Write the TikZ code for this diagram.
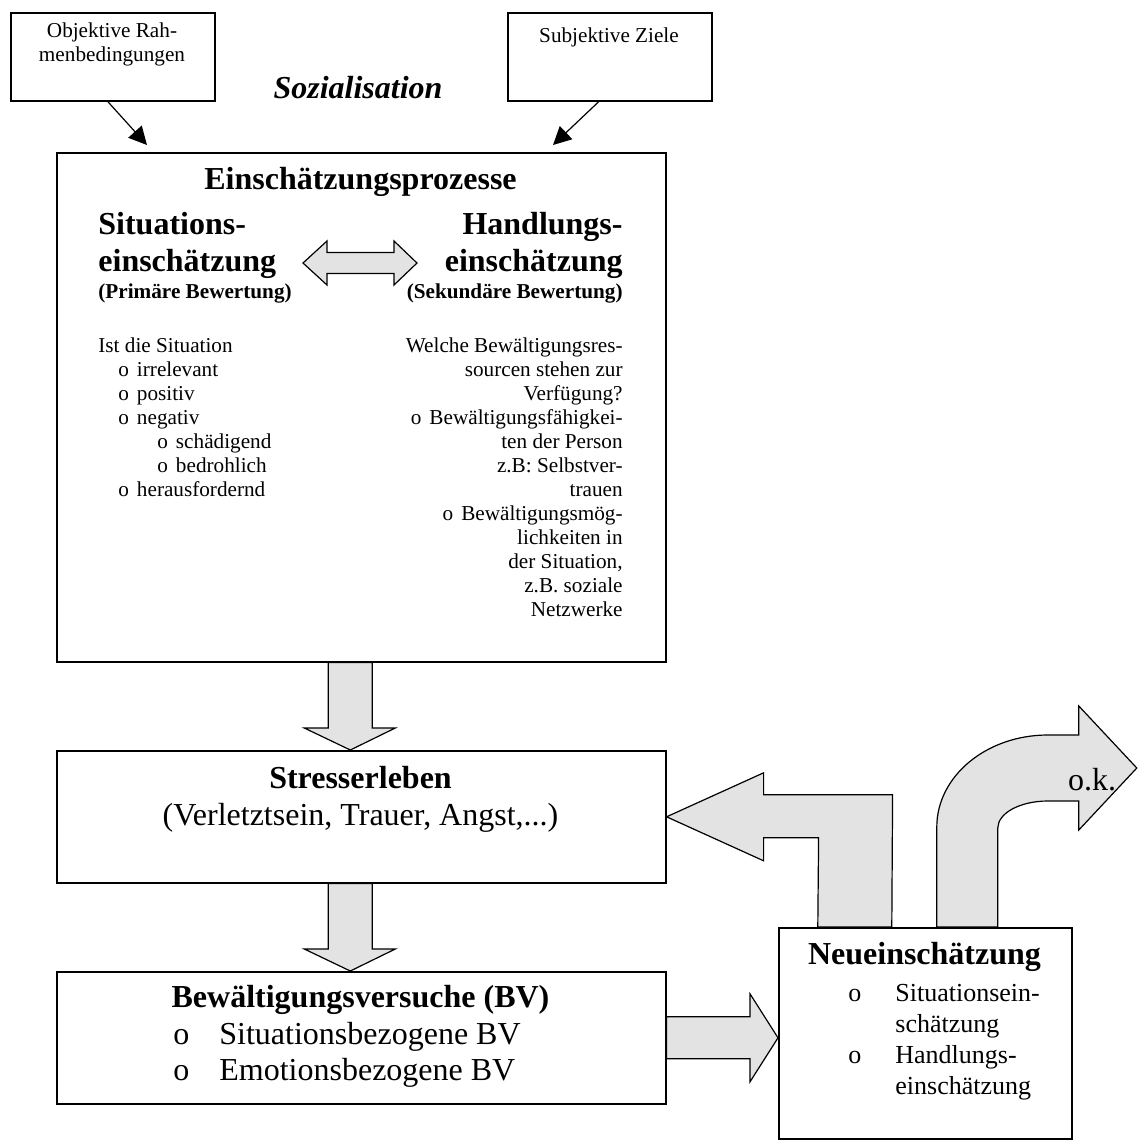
\documentclass[tikz,border=0pt]{standalone}
\usepackage{fontspec}
\setmainfont{Liberation Serif}
\usetikzlibrary{arrows.meta,calc,backgrounds}
\definecolor{blockgray}{HTML}{E3E3E3}

\newcommand{\downblock}[2]{%
  \draw[blockarrow] ($(#1.south)+(-33,0)$) -- ($(#1.south)+(11,0)$)
    -- ($(#2.north)+(11,-22)$) -- ($(#2.north)+(34,-22)$)
    -- ($(#2.north)+(-11,0)$) -- ($(#2.north)+(-57,-22)$)
    -- ($(#2.north)+(-33,-22)$) -- cycle;}
\newcommand{\itm}[1]{\hspace*{#1}o\hspace{4pt}}

\begin{document}
\begin{tikzpicture}[x=0.5pt,y=-0.5pt]
      \tikzset{box/.style={draw, line width=0.8pt, inner sep=0pt, anchor=north west},
        blockarrow/.style={draw, fill=blockgray, line width=0.6pt},
        pointer/.style={line width=0.6pt, -{Triangle[length=9pt,width=9pt]}},
        small/.style={font=\fontsize{10.6}{12}\selectfont, inner sep=0pt},
        smallbold/.style={font=\fontsize{10.6}{12}\selectfont\bfseries, inner sep=0pt},
        big/.style={font=\fontsize{16}{18.5}\selectfont, inner sep=0pt},
        bigbold/.style={font=\fontsize{16}{18.5}\selectfont\bfseries, inner sep=0pt}}
      \useasboundingbox (0,0) rectangle (1137,1142);
      % boxes
      \node[box, minimum width=102pt, minimum height=44pt] (obj) at (10,12) {};
      \node[box, minimum width=102pt, minimum height=44pt] (subj) at (507,12) {};
      \node[box, minimum width=304.5pt, minimum height=254.5pt] (main) at (56,152) {};
      \node[box, minimum width=304.5pt, minimum height=66pt] (stress) at (56,750) {};
      \node[box, minimum width=304.5pt, minimum height=66pt] (coping) at (56,971) {};
      \node[box, minimum width=146.5pt, minimum height=105.5pt] (neu) at (778,927) {};
      % texts
      \node[small, align=center] (objtext) at (112,44) {Objektive Rah-\\menbedingungen};
      \node[small] (subjtext) at (609,37) {Subjektive Ziele};
      \node[font=\fontsize{16}{18.5}\selectfont\bfseries\itshape] (soz) at (358,88) {Sozialisation};
      \node[bigbold] (title) at (360.5,182) {Einschätzungsprozesse};
      \node[bigbold, align=left, anchor=west] (sit) at (98,245) {Situations-\\einschätzung};
      \node[smallbold, anchor=west] (prim) at (98,293) {(Primäre Bewertung)};
      \node[bigbold, align=right, anchor=east] (hand) at (623,245) {Handlungs-\\einschätzung};
      \node[smallbold, anchor=east] (sek) at (623,293) {(Sekundäre Bewertung)};
      \node[small, align=left, anchor=north west] (sitlist) at (98,337) {Ist die Situation\\
        \itm{10pt}irrelevant\\ \itm{10pt}positiv\\ \itm{10pt}negativ\\
        \itm{29.5pt}schädigend\\ \itm{29.5pt}bedrohlich\\ \itm{10pt}herausfordernd};
      \node[small, align=right, anchor=north east] (handlist) at (623,337) {Welche Bewältigungsres-\\
        sourcen stehen zur\\ Verfügung?\\ o\hspace{4pt}Bewältigungsfähigkei-\\ ten der Person\\
        z.B: Selbstver-\\ trauen\\ o\hspace{4pt}Bewältigungsmög-\\ lichkeiten in\\
        der Situation,\\ z.B. soziale\\ Netzwerke};
      \node[big, align=center] (stresstext) at (360.5,799) {\textbf{Stresserleben}\\(Verletztsein, Trauer, Angst,...)};
      \node[bigbold] (copingtitle) at (360.5,1000) {Bewältigungsversuche (BV)};
      \node[font=\fontsize{16}{18}\selectfont, inner sep=0pt, align=left, anchor=west] (copinglist) at (173,1055)
        {\makebox[23pt][l]{o}Situationsbezogene BV\\ \makebox[23pt][l]{o}Emotionsbezogene BV};
      \node[bigbold] (neutitle) at (924.5,957) {Neueinschätzung};
      \node[font=\fontsize{13}{15.5}\selectfont, inner sep=0pt, align=left, anchor=north west] (neulist) at (848,984)
        {\makebox[23.5pt][l]{o}Situationsein-\\ \makebox[23.5pt][l]{}schätzung\\
         \makebox[23.5pt][l]{o}Handlungs-\\ \makebox[23.5pt][l]{}einschätzung};
      \node[big] (ok) at (1092,780) {o.k.};
      % arrows
      \coordinate (objtip) at (147,145);
      \coordinate (subjtip) at (553,145);
      \coordinate (dl) at (303,263);
      \draw[pointer] ($(obj.south)+(-5,0)$) -- (objtip);
      \draw[pointer] ($(subj.south)+(-11,0)$) -- (subjtip);
      \begin{scope}[on background layer]
        \draw[blockarrow] (dl) -- ++(24,-22) -- ++(0,11.5) -- ++(67,0) -- ++(0,-11.5) -- ++(23,22)
          -- ++(-23,22) -- ++(0,-11.5) -- ++(-67,0) -- ++(0,11.5) -- cycle;
        \downblock{main}{stress}
        \downblock{stress}{coping}
        \draw[blockarrow] ($(coping.east)+(0,-21)$) -- ($(neu.west|-coping.east)+(-28,-21)$)
          -- ($(neu.west|-coping.east)+(-28,-44)$) -- (neu.west|-coping.east)
          -- ($(neu.west|-coping.east)+(-28,44)$) -- ($(neu.west|-coping.east)+(-28,21)$)
          -- ($(coping.east)+(0,21)$) -- cycle;
        \draw[blockarrow] (stress.east) -- ($(stress.east)+(97,-44)$) -- ($(stress.east)+(97,-22)$)
          -- ($(stress.east)+(226,-22)$) -- ($(neu.north)+(-33.5,0)$) -- ($(neu.north)+(-107.5,0)$)
          -- ($(stress.east)+(152,21)$) -- ($(stress.east)+(97,21)$) -- ($(stress.east)+(97,44)$) -- cycle;
        \draw[blockarrow] ($(neu.north)+(11.5,0)$) -- ++(0,-100)
          arc[start angle=180, end angle=270, x radius=111, y radius=92] -- ++(31,0) -- ++(0,-29)
          -- ++(58,62) -- ++(-58,62) -- ++(0,-29) -- ++(-31,0)
          arc[start angle=270, end angle=180, x radius=50, y radius=27]
          -- ($(neu.north)+(72.5,0)$) -- cycle;
      \end{scope}
    \end{tikzpicture}
\end{document}
